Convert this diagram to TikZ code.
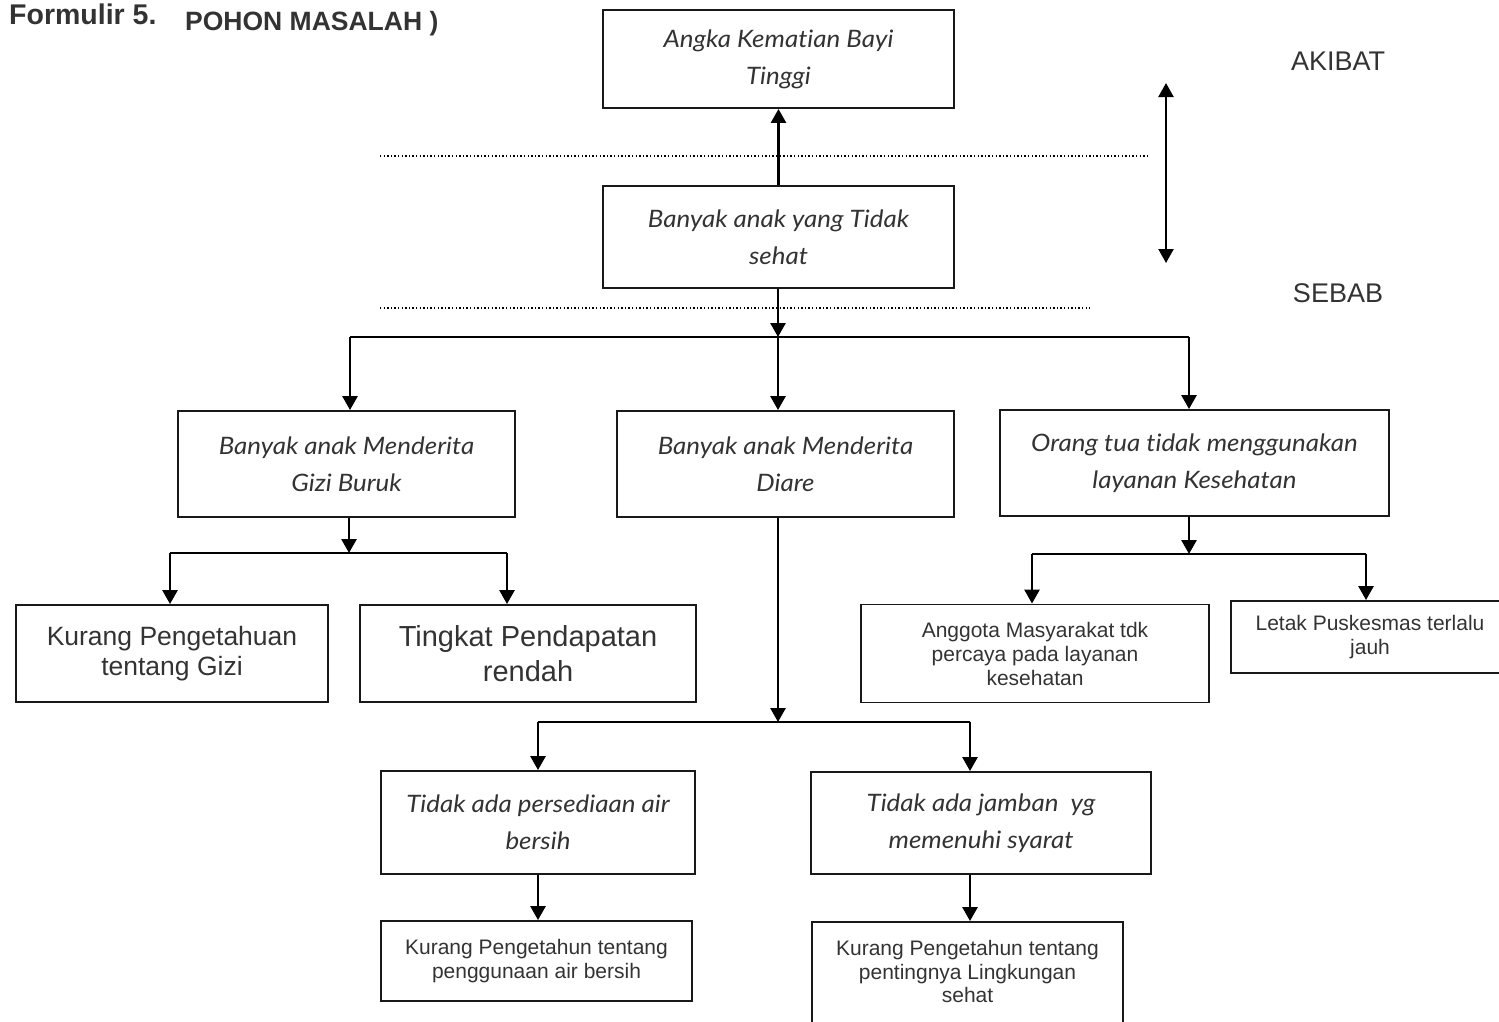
\documentclass[tikz,border=0pt]{standalone}
\usepackage{fontspec}
\setmainfont{Liberation Sans}
\newfontfamily\handfont{Lato}[Ligatures=NoCommon, FakeStretch=1.08]
\usetikzlibrary{arrows.meta}
\definecolor{ink}{HTML}{333333}
\newcommand\fs[2]{\fontsize{#1}{#2}\selectfont}
\begin{document}
\begin{tikzpicture}[x=1pt,y=-1pt,
  box/.style={draw=black!90, line width=1.9pt, inner sep=0pt, align=center, text=ink},
  hand/.style={font=\handfont\itshape\fs{24}{37}},
  arr/.style={line width=2.7pt, -{Triangle[width=15pt,length=14pt]}},
  bar/.style={line width=2.7pt},
  sep/.style={line width=1.2pt, dash pattern=on 1.4pt off 2.2pt},
  side/.style={text=ink, font=\fs{27}{30}}
]
\useasboundingbox (0,0) rectangle (1499,1021);

% heading
\node[anchor=base west, inner sep=0pt, text=ink, font=\bfseries\fs{28.5}{30}] (form) at (9,24) {Formulir 5.};
\node[anchor=base west, inner sep=0pt, text=ink, font=\bfseries\fs{26.5}{30}] (pohon) at (185,30) {POHON MASALAH )};

% side labels
\node[side] (akibat) at (1338,61) {AKIBAT};
\node[side] (sebab) at (1338,293) {SEBAB};
\coordinate (up) at (1166,83);
\coordinate (dn) at (1166,263);
\draw[line width=2.2pt, {Triangle[width=15pt,length=14pt]}-{Triangle[width=15pt,length=14pt]}] (dn) -- (up);

% separators
\coordinate (d1a) at (380,156);
\coordinate (d1b) at (1150,156);
\coordinate (d2a) at (380,308);
\coordinate (d2b) at (1090,308);
\draw[sep] (d1a) -- (d1b);
\draw[sep] (d2a) -- (d2b);

% boxes
\node[box, hand, minimum width=351pt, minimum height=98pt] (akb) at (778.5,59) {Angka Kematian Bayi\\Tinggi};
\node[box, hand, minimum width=351pt, minimum height=102pt] (tsehat) at (778.5,237) {Banyak anak yang Tidak\\sehat};
\node[box, hand, minimum width=337pt, minimum height=106pt] (gizi) at (346.5,464) {Banyak anak Menderita\\Gizi Buruk};
\node[box, hand, minimum width=337pt, minimum height=106pt] (diare) at (785.5,464) {Banyak anak Menderita\\Diare};
\node[box, hand, minimum width=389pt, minimum height=106pt] (orang) at (1194.5,463) {Orang tua tidak menggunakan\\layanan Kesehatan};

\node[box, font=\fs{26.5}{30}, minimum width=312pt, minimum height=97pt] (kpg) at (172,653.5) {Kurang Pengetahuan\\tentang Gizi};
\node[box, font=\fs{29}{35}, minimum width=336pt, minimum height=97pt] (tpr) at (528,653.5) {Tingkat Pendapatan\\rendah};
\node[box, font=\fs{21}{24}, minimum width=348pt, minimum height=98pt] (ang) at (1035,653.5) {Anggota Masyarakat tdk\\percaya pada layanan\\kesehatan};
\node[box, font=\fs{21}{24}, minimum width=278pt, minimum height=72pt] (letak) at (1370,637) {Letak Puskesmas terlalu\\jauh};

\node[box, hand, minimum width=314pt, minimum height=103pt] (tap) at (538,822.5) {Tidak ada persediaan air\\bersih};
\node[box, hand, minimum width=340pt, minimum height=102pt] (tjm) at (981,823) {Tidak ada jamban\ \ yg\\memenuhi syarat};
\node[box, font=\fs{21}{24}, minimum width=311pt, minimum height=80pt] (kpa) at (536.5,961) {Kurang Pengetahun tentang\\penggunaan air bersih};
\node[box, font=\fs{21}{23.5}, minimum width=311pt, minimum height=123pt] (kpl) at (967.5,983.5) {Kurang Pengetahun tentang\\pentingnya Lingkungan\\sehat\\\mbox{}};

% links
\draw[arr] (tsehat.north) -- (akb.south);

\coordinate (j1) at (778,337);
\coordinate (j1l) at (350,337);
\coordinate (j1r) at (1189,337);
\draw[arr] (tsehat.south -| j1) -- (j1);
\draw[bar] (j1l) -- (j1r);
\draw[arr] (j1l) -- (j1l |- gizi.north);
\draw[arr] (j1) -- (j1 |- diare.north);
\draw[arr] (j1r) -- (j1r |- orang.north);

\coordinate (j2) at (349,553);
\coordinate (j2l) at (170,553);
\coordinate (j2r) at (507,553);
\draw[arr] (gizi.south -| j2) -- (j2);
\draw[bar] (j2l) -- (j2r);
\draw[arr] (j2l) -- (j2l |- kpg.north);
\draw[arr] (j2r) -- (j2r |- tpr.north);

\coordinate (j3) at (778,722);
\coordinate (j3l) at (538,722);
\coordinate (j3r) at (970,722);
\draw[arr] (diare.south -| j3) -- (j3);
\draw[bar] (j3l) -- (j3r);
\draw[arr] (j3l) -- (j3l |- tap.north);
\draw[arr] (j3r) -- (j3r |- tjm.north);
\draw[arr] (tap.south -| j3l) -- (j3l |- kpa.north);
\draw[arr] (tjm.south -| j3r) -- (j3r |- kpl.north);

\coordinate (j4) at (1189,554);
\coordinate (j4l) at (1032,554);
\coordinate (j4r) at (1366,554);
\draw[arr] (orang.south -| j4) -- (j4);
\draw[bar] (j4l) -- (j4r);
\draw[arr] (j4l) -- (j4l |- ang.north);
\draw[arr] (j4r) -- (j4r |- letak.north);
\end{tikzpicture}
\end{document}
